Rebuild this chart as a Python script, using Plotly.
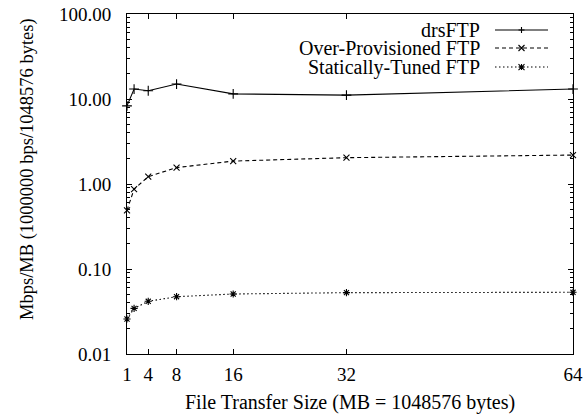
import plotly.graph_objects as go

sizes = [1, 2, 4, 8, 16, 32, 64]
drs_ftp = [8.3, 13.1, 12.5, 15.0, 11.5, 11.1, 13.1]
over_prov = [0.49, 0.87, 1.22, 1.56, 1.86, 2.04, 2.19]
static_tuned = [0.0258, 0.0344, 0.0417, 0.0472, 0.0508, 0.0527, 0.0532]

series_names = ["drsFTP", "Over-Provisioned FTP", "Statically-Tuned FTP"]
x_tick_vals = [1, 4, 8, 16, 32, 64]
y_tick_vals = [0.01, 0.1, 1, 10, 100]
y_tick_text = ["0.01", "0.10", "1.00", "10.00", "100.00"]
y_minor_vals = [m * d for d in [0.01, 0.1, 1, 10] for m in range(2, 10)]

FONT = "Liberation Serif"
FS = 19
W, H = 584, 417
ML, MR, MT, MB = 127, 11, 14, 63
PW, PH = W - ML - MR, H - MT - MB

styles = [
    dict(dash="solid", symbol="cross-thin", size=7),
    dict(dash="4px,3px", symbol="x-thin", size=6),
    dict(dash="1.5px,2.5px", symbol="asterisk", size=6),
]

fig = go.Figure()
for name, vals, st in zip(series_names, [drs_ftp, over_prov, static_tuned], styles):
    fig.add_trace(go.Scatter(
        x=sizes, y=vals, mode="lines+markers", name=name, showlegend=False,
        line=dict(color="black", width=1.1, dash=st["dash"]),
        marker=dict(symbol=st["symbol"], size=st["size"], color="black",
                    line=dict(color="black", width=1.1)),
        cliponaxis=False,
    ))

# manual legend (text left of sample, as in gnuplot), in paper coordinates
def px(dx):
    return dx / PW

def py(dy):
    return dy / PH

legend_y = [0.953, 0.9, 0.844]
x0, x1 = px(495 - ML), px(548 - ML)
xc = (x0 + x1) / 2
r = 3.0
for name, st, ly in zip(series_names, styles, legend_y):
    fig.add_shape(type="line", xref="paper", yref="paper", x0=x0, x1=x1, y0=ly, y1=ly,
                  line=dict(color="black", width=1.1, dash=st["dash"]))
    plus = f"M{xc - px(r)},{ly} L{xc + px(r)},{ly} M{xc},{ly - py(r)} L{xc},{ly + py(r)}"
    cross = (f"M{xc - px(r)},{ly - py(r)} L{xc + px(r)},{ly + py(r)} "
             f"M{xc - px(r)},{ly + py(r)} L{xc + px(r)},{ly - py(r)}")
    path = {"cross-thin": plus, "x-thin": cross, "asterisk": plus + " " + cross}[st["symbol"]]
    fig.add_shape(type="path", xref="paper", yref="paper", path=path,
                  line=dict(color="black", width=1.1))
    fig.add_annotation(text=name, xref="paper", yref="paper", x=0.797, y=ly,
                       xanchor="right", yanchor="middle", showarrow=False,
                       font=dict(family=FONT, size=20, color="black"))

fig.update_layout(
    width=W, height=H,
    margin=dict(l=ML, r=MR, t=MT, b=MB, autoexpand=False),
    plot_bgcolor="white", paper_bgcolor="white",
    font=dict(family=FONT, size=FS, color="black"),
    showlegend=False,
    xaxis=dict(
        range=[1, 64], tickvals=x_tick_vals, ticks="inside", ticklen=5,
        tickcolor="black", showline=True, linecolor="black", linewidth=1,
        mirror="allticks", showgrid=False, zeroline=False, automargin=False,
        tickfont=dict(family=FONT, size=FS), ticklabelstandoff=3,
    ),
    yaxis=dict(
        type="log", range=[-2, 2], tickvals=y_tick_vals, ticktext=y_tick_text,
        ticks="inside", ticklen=5, tickcolor="black", showline=True,
        linecolor="black", linewidth=1, mirror="allticks", showgrid=False,
        zeroline=False, automargin=False, tickfont=dict(family=FONT, size=FS),
        ticklabelstandoff=11,
        minor=dict(tickmode="array", tickvals=y_minor_vals, ticks="inside",
                   ticklen=3, tickcolor="black", showgrid=False),
    ),
)

fig.add_annotation(text="File Transfer Size (MB = 1048576 bytes)", xref="paper",
                   yref="paper", x=(350 - ML) / PW, y=-(402 - (H - MB)) / PH,
                   xanchor="center", yanchor="middle", showarrow=False,
                   font=dict(family=FONT, size=20))
fig.add_annotation(text="Mbps/MB (1000000 bps/1048576 bytes)", xref="paper",
                   yref="paper", x=(27 - ML) / PW, y=((H - MB) - 169) / PH,
                   xanchor="center", yanchor="middle",
                   textangle=-90, showarrow=False, font=dict(family=FONT, size=18.5))

fig.write_html("out.html", config={"displayModeBar": False},
               post_script="document.body.style.margin='0';")
